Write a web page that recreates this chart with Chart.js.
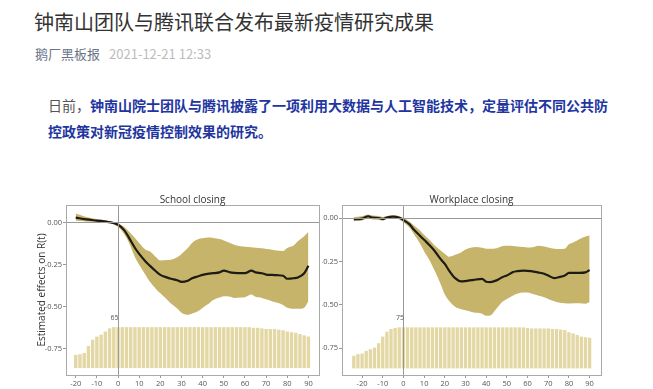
<!DOCTYPE html>
<html>
<head>
<meta charset="utf-8">
<script src="https://cdn.jsdelivr.net/npm/chart.js@4/dist/chart.umd.min.js"></script>
<style>
  body { margin: 0; background: #fff; font-family: "Noto Sans CJK SC", "Noto Sans", sans-serif; }
  #page { position: relative; width: 653px; height: 389px; overflow: hidden; }
  .abs { position: absolute; white-space: nowrap; }
  #title { left: 34px; top: 10px; font-size: 20px; line-height: 24px; color: #333; }
  #meta { left: 35px; top: 45px; font-size: 13px; line-height: 17px; }
  #meta .name { color: #6a7488; }
  #meta .date { color: #bcbcbc; margin-left: 9px; }
  #para { left: 48px; top: 92px; font-size: 14px; line-height: 26px; color: #555; }
  #para b { color: #22359f; }
  canvas { position: absolute; }
</style>
</head>
<body>
<div id="page">
  <div id="title" class="abs">钟南山团队与腾讯联合发布最新疫情研究成果</div>
  <div id="meta" class="abs"><span class="name">鹅厂黑板报</span><span class="date">2021-12-21 12:33</span></div>
  <div id="para" class="abs">日前，<b>钟南山院士团队与腾讯披露了一项利用大数据与人工智能技术，定量评估不同公共防<br>控政策对新冠疫情控制效果的研究。</b></div>
  <canvas id="schoolChart" width="305" height="201" style="left:20px;top:188px"></canvas>
  <canvas id="workChart" width="300" height="201" style="left:322px;top:188px"></canvas>
</div>
<script>
// tick labels
const xTicks = [-20, -10, 0, 10, 20, 30, 40, 50, 60, 70, 80, 90];
const yTicks = [0, -0.25, -0.5, -0.75];

// School closing
const schoolDays = [-20, -15, -10, -5, 0, 3, 5, 8, 10, 13, 15, 18, 20, 23, 25, 28, 30, 33, 35, 38, 40,
  43, 45, 48, 50, 53, 55, 58, 60, 63, 65, 68, 70, 73, 75, 78, 80, 83, 85, 88, 90];
const schoolMean = [0.031, 0.02, 0.013, 0.006, -0.012, -0.045, -0.085, -0.15, -0.185, -0.23, -0.255, -0.29, -0.31, -0.325, -0.333, -0.342, -0.352, -0.345, -0.33, -0.318, -0.31,
  -0.302, -0.3, -0.295, -0.285, -0.295, -0.298, -0.3, -0.3, -0.285, -0.295, -0.3, -0.308, -0.31, -0.312, -0.315, -0.333, -0.33, -0.325, -0.3, -0.256];
const schoolUpper = [0.055, 0.035, 0.022, 0.012, -0.004, -0.025, -0.05, -0.09, -0.12, -0.16, -0.17, -0.205, -0.225, -0.222, -0.22, -0.205, -0.185, -0.15, -0.12, -0.097, -0.092,
  -0.088, -0.09, -0.097, -0.105, -0.12, -0.13, -0.14, -0.142, -0.145, -0.148, -0.152, -0.156, -0.16, -0.165, -0.168, -0.15, -0.135, -0.11, -0.08, -0.053];
const schoolLower = [0.012, 0.008, 0.005, 0.001, -0.024, -0.07, -0.115, -0.205, -0.25, -0.31, -0.35, -0.395, -0.42, -0.455, -0.48, -0.51, -0.535, -0.548, -0.54, -0.525, -0.505,
  -0.48, -0.46, -0.445, -0.437, -0.44, -0.447, -0.445, -0.443, -0.427, -0.44, -0.447, -0.455, -0.468, -0.475, -0.49, -0.506, -0.512, -0.512, -0.505, -0.467];
const schoolBarDays = [-20, -18, -16, -14, -12, -10, -8, -6, -4, -2, 0, 2, 4, 6, 8, 10, 12, 14, 16, 18, 20, 22, 24, 26, 28,
  30, 32, 34, 36, 38, 40, 42, 44, 46, 48, 50, 52, 54, 56, 58, 60, 62, 64, 66, 68, 70, 72, 74, 76, 78, 80, 82, 84, 86, 88, 90];
const schoolCounts = [21, 22, 24, 35, 45, 50, 53, 58, 63, 65, 65, 65, 65, 65, 65, 65, 65, 65, 65, 65, 65, 65, 65, 65, 65,
  65, 65, 65, 65, 65, 65, 65, 65, 65, 65, 65, 65, 65, 65, 65, 65, 65, 64, 64, 63, 62, 62, 62, 61, 60, 58, 57, 56, 54, 52, 50];

// Workplace closing
const workDays = [-24, -20, -17, -15, -12, -10, -8, -5, -2, 0, 3, 5, 8, 10, 13, 15, 18, 20, 22, 25, 28, 30, 33, 35, 38, 40,
  42, 45, 48, 50, 53, 55, 58, 60, 63, 65, 68, 70, 73, 75, 78, 80, 82, 85, 88, 90];
const workMean = [-0.006, -0.002, 0.012, 0.004, 0.002, -0.004, 0.005, 0.01, 0.003, -0.01, -0.035, -0.065, -0.1, -0.124, -0.16, -0.187, -0.235, -0.263, -0.3, -0.345, -0.364, -0.362, -0.357, -0.353, -0.349, -0.366,
  -0.368, -0.358, -0.338, -0.33, -0.31, -0.305, -0.302, -0.303, -0.307, -0.312, -0.32, -0.33, -0.345, -0.34, -0.33, -0.315, -0.315, -0.315, -0.312, -0.298];
const workUpper = [0.008, 0.012, 0.022, 0.016, 0.013, 0.008, 0.014, 0.018, 0.012, 0.003, -0.02, -0.04, -0.07, -0.095, -0.13, -0.155, -0.185, -0.205, -0.222, -0.21, -0.195, -0.18, -0.168, -0.165, -0.17, -0.175,
  -0.175, -0.172, -0.16, -0.158, -0.16, -0.162, -0.165, -0.168, -0.165, -0.158, -0.162, -0.168, -0.175, -0.177, -0.175, -0.15, -0.14, -0.12, -0.105, -0.097];
const workLower = [-0.014, -0.012, 0, -0.006, -0.008, -0.012, -0.004, 0, -0.006, -0.022, -0.055, -0.09, -0.145, -0.19, -0.25, -0.3, -0.38, -0.44, -0.475, -0.51, -0.525, -0.53, -0.54, -0.545, -0.55, -0.562,
  -0.56, -0.52, -0.48, -0.465, -0.445, -0.435, -0.428, -0.428, -0.438, -0.445, -0.455, -0.465, -0.478, -0.485, -0.49, -0.492, -0.49, -0.49, -0.493, -0.483];
const workBarDays = [-24, -22, -20, -18, -16, -14, -12, -10, -8, -6, -4, -2, 0, 2, 4, 6, 8, 10, 12, 14, 16, 18, 20, 22, 24, 26, 28,
  30, 32, 34, 36, 38, 40, 42, 44, 46, 48, 50, 52, 54, 56, 58, 60, 62, 64, 66, 68, 70, 72, 74, 76, 78, 80, 82, 84, 86, 88, 90];
const workCounts = [23, 26, 27, 32, 35, 38, 46, 58, 67, 72, 74, 75, 75, 75, 75, 75, 75, 75, 75, 75, 75, 75, 75, 75, 75, 75, 75,
  75, 75, 75, 75, 75, 75, 75, 75, 75, 75, 75, 75, 75, 75, 75, 74, 73, 73, 73, 73, 73, 72, 72, 71, 70, 66, 64, 61, 58, 57, 56];

Chart.defaults.font.family = "'Open Sans', 'Noto Sans', sans-serif";
Chart.defaults.color = "#555";

const bandColor = "#c7b46b";
const barColor = "#e3d7a3";
const lineColor = "#1d1b14";
const frameColor = "#aaa";

const toPoints = (days, vals) => days.map((d, i) => ({ x: d, y: vals[i] }));

const framePlugin = {
  id: "frame",
  afterDraw(chart, args, opts) {
    const { ctx, chartArea } = chart;
    ctx.save();
    ctx.strokeStyle = frameColor;
    ctx.lineWidth = 1;
    ctx.strokeRect(Math.round(chartArea.left) + 0.5, Math.round(chartArea.top) + 0.5,
      Math.round(chartArea.right - chartArea.left), Math.round(chartArea.bottom - chartArea.top));
    // panel title
    ctx.fillStyle = "#333";
    ctx.font = "10px 'Open Sans'";
    ctx.textAlign = "center";
    ctx.textBaseline = "middle";
    ctx.fillText(opts.title, (chartArea.left + chartArea.right) / 2, chartArea.top - 5);
    // sample count at day 0
    const idx = opts.barDays.indexOf(0);
    const n = opts.counts[idx];
    const px = chart.scales.x.getPixelForValue(0);
    const py = chart.scales.yN.getPixelForValue(n);
    ctx.font = "7px 'Open Sans'";
    ctx.fillStyle = "#555";
    ctx.textAlign = "right";
    ctx.fillText(String(n), px + 0.5, py - 9);
    ctx.restore();
  }
};

const zeroLine = (ctx) => (ctx.tick && ctx.tick.value === 0 ? "#999" : "rgba(0,0,0,0)");

const makeChart = (canvasId, d) => {
  // hidden count axis: count 0 sits at barBase, max count at barTop (in R(t) units)
  const span = d.yMax - d.yMin;
  const fBase = (d.barBase - d.yMin) / span;
  const fTop = (d.barTop - d.yMin) / span;
  const maxCount = Math.max(...d.counts);
  const perCount = (fTop - fBase) / maxCount;
  const nMin = -fBase / perCount;
  const nMax = (1 - fBase) / perCount;

  return new Chart(document.getElementById(canvasId), {
    type: "line",
    data: {
      datasets: [
        {
          data: toPoints(d.days, d.mean),
          borderColor: lineColor,
          borderWidth: 2.2,
          pointRadius: 0,
          cubicInterpolationMode: "monotone",
          fill: false,
          order: 0,
        },
        {
          data: toPoints(d.days, d.upper),
          borderWidth: 0,
          borderColor: "rgba(0,0,0,0)",
          backgroundColor: bandColor,
          pointRadius: 0,
          cubicInterpolationMode: "monotone",
          fill: 2,
          order: 1,
        },
        {
          data: toPoints(d.days, d.lower),
          borderWidth: 0,
          borderColor: "rgba(0,0,0,0)",
          pointRadius: 0,
          cubicInterpolationMode: "monotone",
          fill: false,
          order: 1,
        },
        {
          type: "bar",
          data: toPoints(d.barDays, d.counts),
          yAxisID: "yN",
          backgroundColor: barColor,
          barPercentage: 1,
          categoryPercentage: 0.8,
          order: 3,
        },
      ],
    },
    options: {
      responsive: false,
      animation: false,
      devicePixelRatio: 1,
      layout: { padding: { top: 17, right: d.padRight, left: 0, bottom: 0 } },
      plugins: {
        legend: { display: false },
        tooltip: { enabled: false },
        frame: { title: d.title, barDays: d.barDays, counts: d.counts },
      },
      scales: {
        x: {
          type: "linear",
          min: d.xMin,
          max: d.xMax,
          offset: false,
          afterBuildTicks: (scale) => { scale.ticks = xTicks.map((v) => ({ value: v })); },
          afterFit: (scale) => { scale.height = 14; },
          ticks: { font: { size: 7.5 }, padding: 1, maxRotation: 0, autoSkip: false },
          grid: { offset: false, color: zeroLine, tickColor: "#999", tickLength: 3, z: 1 },
          border: { display: false },
        },
        y: {
          min: d.yMin,
          max: d.yMax,
          afterBuildTicks: (scale) => { scale.ticks = yTicks.map((v) => ({ value: v })); },
          afterFit: (scale) => { scale.width = d.yAxisWidth; },
          ticks: { font: { size: 7.5 }, padding: 1, callback: (v) => Number(v).toFixed(2) },
          grid: { offset: false, color: zeroLine, tickColor: "#999", tickLength: 3, z: 1 },
          border: { display: false },
          title: {
            display: !!d.yTitle,
            text: d.yTitle || "",
            color: "#333",
            font: { size: 10 },
            padding: { top: 16.5, bottom: 0 },
          },
        },
        yN: {
          display: false,
          min: nMin,
          max: nMax,
        },
      },
    },
    plugins: [framePlugin],
  });
};

makeChart("schoolChart", {
  title: "School closing",
  yTitle: "Estimated effects on R(t)",
  days: schoolDays, mean: schoolMean, upper: schoolUpper, lower: schoolLower,
  barDays: schoolBarDays, counts: schoolCounts,
  xMin: -24.6, xMax: 95, yMin: -0.906, yMax: 0.106,
  barBase: -0.865, barTop: -0.621,
  yAxisWidth: 46, padRight: 6,
});

makeChart("workChart", {
  title: "Workplace closing",
  days: workDays, mean: workMean, upper: workUpper, lower: workLower,
  barDays: workBarDays, counts: workCounts,
  xMin: -29.7, xMax: 95.5, yMin: -0.904, yMax: 0.077,
  barBase: -0.866, barTop: -0.629,
  yAxisWidth: 20, padRight: 21,
});
</script>
</body>
</html>
